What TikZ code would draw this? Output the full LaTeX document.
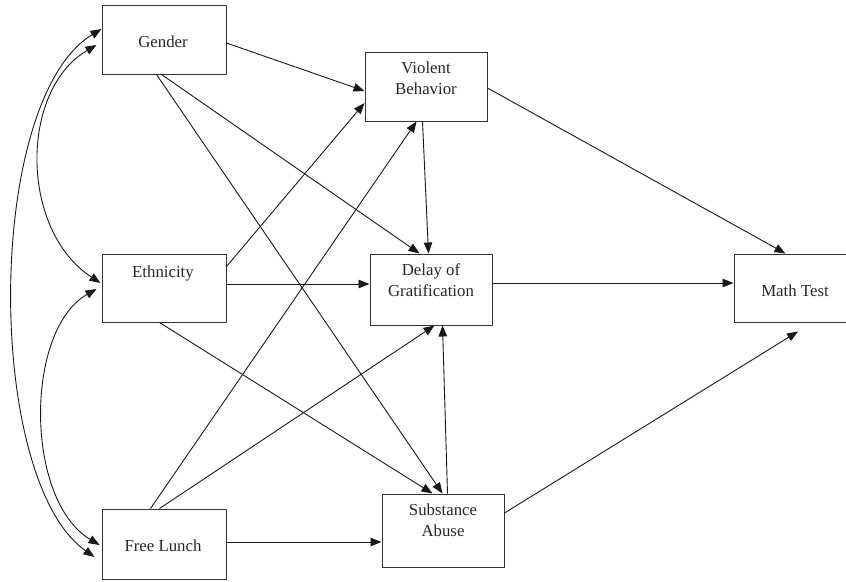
\documentclass[tikz,border=0pt]{standalone}
\usepackage{fontspec}
\setmainfont{Liberation Serif}
\usetikzlibrary{arrows.meta,calc}
\begin{document}
\begin{tikzpicture}[x=1pt,y=-1pt,
  boxnode/.style={draw=black!80, line width=1pt, inner sep=0pt, rectangle},
  lbl/.style={font=\fontsize{16.8}{20.5}\selectfont, align=center, inner sep=0pt, text=black!85, anchor=base},
  arr/.style={draw=black!90, line width=0.9pt, ->},
  darr/.style={draw=black!90, line width=0.9pt, <->},
  >={Triangle[length=11pt,width=8.5pt]}]
\useasboundingbox (0,0) rectangle (846,581);
% boxes
\node[boxnode, minimum width=124pt, minimum height=69pt] (gen) at (164,39.5) {};
\node[boxnode, minimum width=122pt, minimum height=69pt] (vio) at (426,86.5) {};
\node[boxnode, minimum width=124pt, minimum height=68pt] (eth) at (164,288) {};
\node[boxnode, minimum width=122pt, minimum height=71pt] (del) at (431,289.5) {};
\node[boxnode, minimum width=122pt, minimum height=68pt] (math) at (795,288) {};
\node[boxnode, minimum width=124pt, minimum height=70pt] (fl) at (164,544) {};
\node[boxnode, minimum width=122pt, minimum height=73pt] (sub) at (443,530.5) {};
% texts (base anchor = baseline of last line)
\node[lbl] (genT) at (163,47.3) {Gender};
\node[lbl] (vioT) at (426,94) {Violent\\Behavior};
\node[lbl] (ethT) at (163,277) {Ethnicity};
\node[lbl] (delT) at (431,296) {Delay of\\Gratification};
\node[lbl] (mathT) at (795,296) {Math Test};
\node[lbl] (flT) at (163,551) {Free Lunch};
\node[lbl] (subT) at (443,536) {Substance\\Abuse};
% straight paths
\draw[arr] ($(gen.east)+(0,3.5)$) -- ($(vio.west)+(0,4.5)$);
\draw[arr] ($(gen.south west)+(60,0)$) -- ($(del.north west)+(50,0)$);
\draw[arr] ($(gen.south west)+(55,0)$) -- ($(sub.north west)+(61,0)$);
\draw[arr] ($(eth.north east)+(0,13)$) -- ($(vio.west)+(0,16.5)$);
\draw[arr] ($(eth.east)+(0,-4)$) -- ($(del.west)+(0,-5.5)$);
\draw[arr] ($(eth.south west)+(58,0)$) -- ($(sub.north west)+(51,0)$);
\draw[arr] ($(fl.north west)+(49,0)$) -- ($(vio.south west)+(52,0)$);
\draw[arr] ($(fl.north west)+(58,0)$) -- ($(del.south west)+(65,0)$);
\draw[arr] ($(fl.east)+(0,-2)$) -- ($(sub.west)+(0,11.5)$);
\draw[arr] ($(vio.south west)+(58,0)$) -- ($(del.north west)+(59,0)$);
\draw[arr] ($(vio.east)+(0,1.5)$) -- ($(math.north west)+(52,0)$);
\draw[arr] ($(del.east)+(0,-6.5)$) -- ($(math.west)+(0,-5)$);
\draw[arr] ($(sub.east)+(0,-17.5)$) -- ($(math.south)+(3,9)$);
\draw[arr] ($(sub.north west)+(66,0)$) -- ($(del.south west)+(73,0)$);
% curved correlations
\draw[darr] ($(gen.west)+(0,-10.5)$) .. controls +(-117,71) and +(-110,-77) .. ($(fl.west)+(-7,13)$);
\draw[darr] ($(gen.west)+(-5,5.5)$) .. controls +(-77,45) and +(-81,-53) .. ($(eth.west)+(-1,-5)$);
\draw[darr] ($(eth.west)+(-5,1)$) .. controls +(-72,41) and +(-75,-45) .. ($(fl.west)+(-2,1)$);
\end{tikzpicture}
\end{document}
